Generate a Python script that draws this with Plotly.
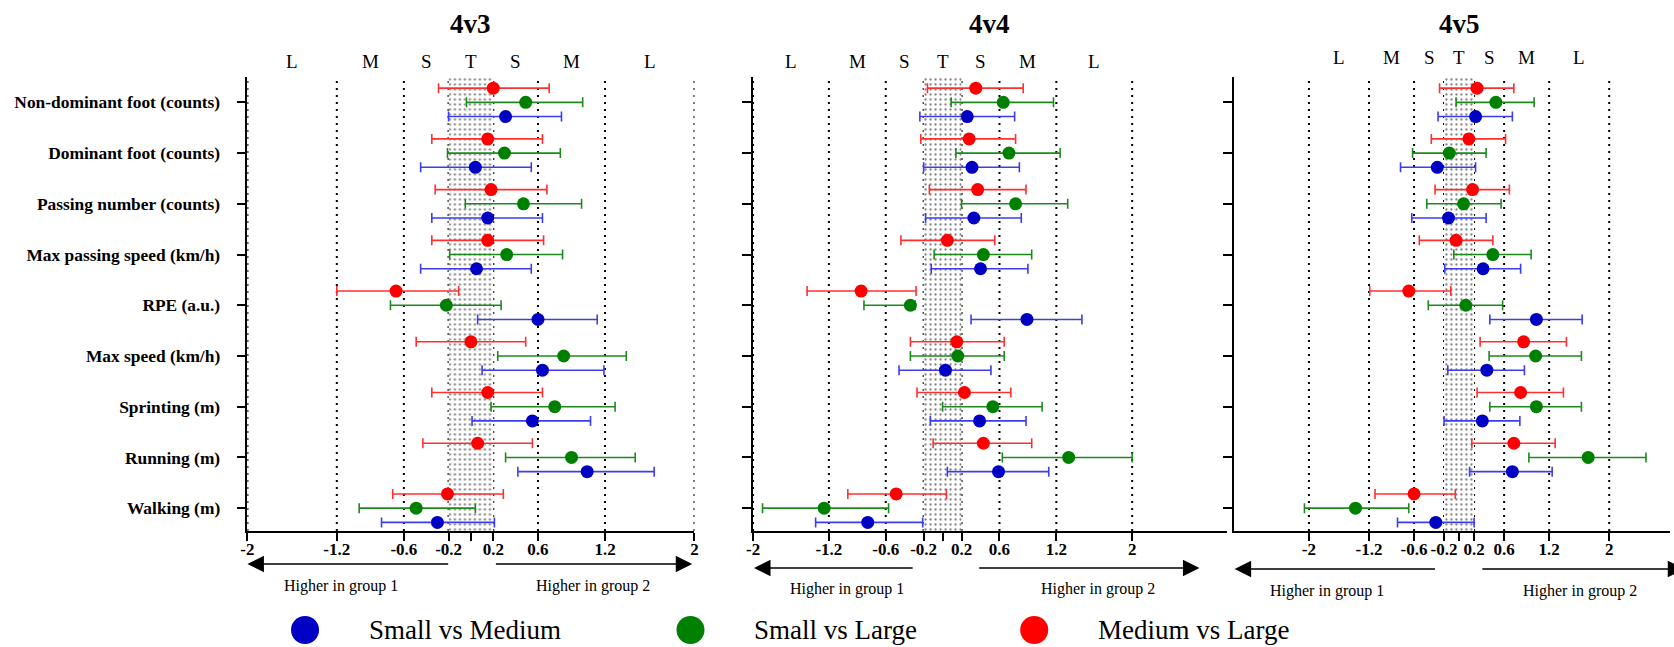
import plotly.graph_objects as go

# ---------------------------------------------------------------- data
CATEGORIES = [
    "Non-dominant foot (counts)",
    "Dominant foot (counts)",
    "Passing number (counts)",
    "Max passing speed (km/h)",
    "RPE (a.u.)",
    "Max speed (km/h)",
    "Sprinting (m)",
    "Running (m)",
    "Walking (m)",
]
FORMATS = ["4v3", "4v4", "4v5"]
COMPARISONS = ["Small vs Medium", "Small vs Large", "Medium vs Large"]

# 4v3 — standardised effect size with lower / upper confidence limits
ES_4V3_SM = [0.31, 0.04, 0.15, 0.05, 0.60, 0.64, 0.55, 1.04, -0.30]
LO_4V3_SM = [-0.20, -0.45, -0.35, -0.45, 0.06, 0.10, 0.01, 0.42, -0.80]
HI_4V3_SM = [0.81, 0.54, 0.64, 0.54, 1.13, 1.19, 1.07, 1.64, 0.21]
ES_4V3_SL = [0.49, 0.30, 0.47, 0.32, -0.22, 0.83, 0.75, 0.90, -0.49]
LO_4V3_SL = [-0.04, -0.21, -0.05, -0.19, -0.72, 0.24, 0.18, 0.31, -1.00]
HI_4V3_SL = [1.00, 0.80, 0.99, 0.82, 0.27, 1.39, 1.29, 1.47, 0.04]
ES_4V3_ML = [0.20, 0.15, 0.18, 0.15, -0.67, 0.00, 0.15, 0.06, -0.21]
LO_4V3_ML = [-0.29, -0.35, -0.32, -0.35, -1.20, -0.49, -0.35, -0.43, -0.70]
HI_4V3_ML = [0.70, 0.64, 0.68, 0.65, -0.11, 0.49, 0.64, 0.55, 0.29]

# 4v4
ES_4V4_SM = [0.26, 0.31, 0.33, 0.40, 0.89, 0.03, 0.39, 0.59, -0.79]
LO_4V4_SM = [-0.24, -0.20, -0.18, -0.12, 0.30, -0.46, -0.13, 0.05, -1.34]
HI_4V4_SM = [0.76, 0.81, 0.83, 0.90, 1.47, 0.51, 0.88, 1.12, -0.21]
ES_4V4_SL = [0.64, 0.70, 0.77, 0.43, -0.34, 0.16, 0.53, 1.33, -1.25]
LO_4V4_SL = [0.09, 0.14, 0.20, -0.09, -0.83, -0.34, 0.00, 0.63, -1.90]
HI_4V4_SL = [1.17, 1.24, 1.32, 0.94, -0.29, 0.65, 1.05, 2.00, -0.57]
ES_4V4_ML = [0.35, 0.28, 0.37, 0.05, -0.86, 0.15, 0.23, 0.43, -0.49]
LO_4V4_ML = [-0.16, -0.23, -0.14, -0.44, -1.43, -0.34, -0.27, -0.10, -1.00]
HI_4V4_ML = [0.85, 0.77, 0.88, 0.55, -0.28, 0.65, 0.72, 0.94, 0.04]

# 4v5
ES_4V5_SM = [0.22, -0.29, -0.14, 0.32, 1.03, 0.37, 0.31, 0.71, -0.31]
LO_4V5_SM = [-0.28, -0.78, -0.63, -0.19, 0.41, -0.15, -0.20, 0.14, -0.82]
HI_4V5_SM = [0.71, 0.22, 0.36, 0.82, 1.64, 0.87, 0.81, 1.24, 0.20]
ES_4V5_SL = [0.49, -0.13, 0.06, 0.45, 0.09, 1.02, 1.03, 1.72, -1.38]
LO_4V5_SL = [-0.04, -0.62, -0.43, -0.07, -0.41, 0.40, 0.41, 0.93, -2.06]
HI_4V5_SL = [1.00, 0.36, 0.56, 0.96, 0.58, 1.63, 1.63, 2.49, -0.67]
ES_4V5_ML = [0.24, 0.13, 0.18, -0.04, -0.67, 0.86, 0.82, 0.73, -0.60]
LO_4V5_ML = [-0.26, -0.37, -0.32, -0.53, -1.19, 0.28, 0.24, 0.17, -1.12]
HI_4V5_ML = [0.73, 0.62, 0.67, 0.45, -0.11, 1.43, 1.39, 1.28, -0.05]

# Magnitude thresholds and their labels
X_TICKS = [-2, -1.2, -0.6, -0.2, 0, 0.2, 0.6, 1.2, 2]
X_TICK_TEXT = ["-2", "-1.2", "-0.6", "-0.2", "", "0.2", "0.6", "1.2", "2"]
MAGNITUDE_LABELS = ["L", "M", "S", "T", "S", "M", "L"]
MAGNITUDE_POS = [-1.6, -0.9, -0.4, 0.0, 0.4, 0.9, 1.6]
TRIVIAL = 0.2

SERIES = {
    "4v3": [(ES_4V3_SM, LO_4V3_SM, HI_4V3_SM), (ES_4V3_SL, LO_4V3_SL, HI_4V3_SL),
            (ES_4V3_ML, LO_4V3_ML, HI_4V3_ML)],
    "4v4": [(ES_4V4_SM, LO_4V4_SM, HI_4V4_SM), (ES_4V4_SL, LO_4V4_SL, HI_4V4_SL),
            (ES_4V4_ML, LO_4V4_ML, HI_4V4_ML)],
    "4v5": [(ES_4V5_SM, LO_4V5_SM, HI_4V5_SM), (ES_4V5_SL, LO_4V5_SL, HI_4V5_SL),
            (ES_4V5_ML, LO_4V5_ML, HI_4V5_ML)],
}

# ---------------------------------------------------------------- styling
W, H = 1674, 647
SERIF = "Liberation Serif"
MARKER_COLORS = ["#0000c4", "#008000", "#ff0000"]
BAR_COLORS = ["#3c3cf0", "#1e8a1e", "#ff3030"]
ROW_OFFSET = [-0.28, 0.0, 0.28]          # blue below, red above the tick

PANELS = [  # pixel domain, x range, title x, arrows (tip, tail), text x
    dict(dom=(242, 692), rng=(-2, 2), title_x=0.0,
         left=(-2.0, -0.19), right=(0.21, 1.98), txt=(-1.16, 1.09),
         arrow_y=564, text_y=586, mag_y=62),
    dict(dom=(751, 1228), rng=(-2, 3), title_x=0.5,
         left=(-1.99, -0.3), right=(0.37, 2.71), txt=(-1.01, 1.64),
         arrow_y=568, text_y=589, mag_y=62),
    dict(dom=(1235, 1674), rng=(-3, 2.81), title_x=0.0,
         left=(-2.99, -0.3), right=(0.29, 3.0), txt=(-1.76, 1.61),
         arrow_y=569, text_y=591, mag_y=58),
]
Y_TOP, Y_BOT = 77, 531
Y_RANGE = (-0.45, 8.5)


def px_x(v):
    return v / W


def px_y(v):
    return 1 - v / H


n = len(CATEGORIES)
ypos = [n - 1 - i for i in range(n)]

fig = go.Figure()
annotations = []
shapes = []

for p, (fmt, panel) in enumerate(zip(FORMATS, PANELS)):
    sfx = "" if p == 0 else str(p + 1)
    xa, ya = "x" + sfx, "y" + sfx

    # trivial band with stipple
    fig.add_trace(go.Scatter(
        x=[-TRIVIAL, TRIVIAL, TRIVIAL, -TRIVIAL, -TRIVIAL],
        y=[Y_RANGE[0], Y_RANGE[0], Y_RANGE[1], Y_RANGE[1], Y_RANGE[0]],
        fill="toself", mode="lines", line=dict(width=0),
        fillcolor="rgba(0,0,0,0)",
        fillpattern=dict(shape=".", fgcolor="black", bgcolor="white",
                         size=5, solidity=0.16),
        xaxis=xa, yaxis=ya, showlegend=False, hoverinfo="skip"))

    # dotted threshold lines
    for xv in X_TICKS:
        shapes.append(dict(type="line", xref=xa, yref=ya + " domain",
                           x0=xv, x1=xv, y0=0, y1=1, layer="below",
                           line=dict(color="black", width=2, dash="2px,5px")))

    for s, (est, lo, hi) in enumerate(SERIES[fmt]):
        fig.add_trace(go.Scatter(
            x=est, y=[y + ROW_OFFSET[s] for y in ypos], mode="markers",
            marker=dict(size=13, color=MARKER_COLORS[s]),
            error_x=dict(type="data", symmetric=False,
                         array=[h - e for h, e in zip(hi, est)],
                         arrayminus=[e - l for e, l in zip(est, lo)],
                         color=BAR_COLORS[s], thickness=1.6, width=5),
            xaxis=xa, yaxis=ya, showlegend=False, name=COMPARISONS[s]))

    dom = [px_x(panel["dom"][0]), px_x(panel["dom"][1])]
    fig.update_layout(**{
        ("xaxis" + sfx): dict(
            domain=dom, range=list(panel["rng"]), anchor=ya,
            showline=True, linecolor="black", linewidth=1.5,
            ticks="outside", ticklen=8, tickwidth=1.5, tickcolor="black",
            tickvals=X_TICKS, ticktext=X_TICK_TEXT, ticklabelstandoff=-6,
            tickfont=dict(family=SERIF, size=17, color="black", weight="bold"),
            showgrid=False, zeroline=False, fixedrange=True),
        ("yaxis" + sfx): dict(
            domain=[px_y(Y_BOT), px_y(Y_TOP)], range=list(Y_RANGE), anchor=xa,
            showline=True, linecolor="black", linewidth=1.5,
            ticks="outside", ticklen=9, tickwidth=1.5, tickcolor="black",
            tickvals=ypos, ticktext=CATEGORIES, showticklabels=(p == 0),
            ticklabelstandoff=13,
            tickfont=dict(family=SERIF, size=17.4, color="black", weight="bold"),
            showgrid=False, zeroline=False, fixedrange=True),
    })

    # panel title
    annotations.append(dict(text="<b>%s</b>" % fmt, x=panel["title_x"], xref=xa,
                            y=px_y(24), yref="paper", yanchor="middle",
                            showarrow=False,
                            font=dict(family=SERIF, size=27, color="black")))
    # magnitude letters
    for lab, xv in zip(MAGNITUDE_LABELS, MAGNITUDE_POS):
        annotations.append(dict(text=lab, x=xv, xref=xa, y=px_y(panel["mag_y"]),
                                yref="paper", yanchor="middle", showarrow=False,
                                font=dict(family=SERIF, size=19, color="black")))
    # direction arrows
    for tip, tail in (panel["left"], tuple(reversed(panel["right"]))):
        annotations.append(dict(text="", x=tip, xref=xa, y=px_y(panel["arrow_y"]),
                                yref="paper", ax=tail, axref=xa, ay=0, ayref="pixel",
                                showarrow=True, arrowhead=2, arrowsize=2.2,
                                arrowwidth=1.5, arrowcolor="black", standoff=0))
    for lab, xv in zip(["Higher in group 1", "Higher in group 2"], panel["txt"]):
        annotations.append(dict(text=lab, x=xv, xref=xa, y=px_y(panel["text_y"]),
                                yref="paper", yanchor="middle", showarrow=False,
                                font=dict(family=SERIF, size=16, color="black")))

# legend along the bottom edge, drawn on a full-page axis in page pixels
LEGEND_X = [300, 688, 1034]
LEGEND_Y = 630
fig.add_trace(go.Scatter(
    x=LEGEND_X, y=[LEGEND_Y] * 3, mode="markers",
    marker=dict(size=28, color=MARKER_COLORS),
    xaxis="x4", yaxis="y4", showlegend=False, hoverinfo="skip",
    cliponaxis=False))
for lab, xv in zip(COMPARISONS, LEGEND_X):
    annotations.append(dict(text=lab, x=xv + 62, xref="x4", y=LEGEND_Y, yref="y4",
                            xanchor="left", yanchor="middle", showarrow=False,
                            font=dict(family=SERIF, size=27, color="black")))

fig.update_layout(
    xaxis4=dict(domain=[0, 1], range=[0, W], visible=False, anchor="y4",
                fixedrange=True),
    yaxis4=dict(domain=[0, 1], range=[H, 0], visible=False, anchor="x4",
                fixedrange=True),
    width=W, height=H, margin=dict(l=0, r=0, t=0, b=0),
    paper_bgcolor="white", plot_bgcolor="rgba(0,0,0,0)",
    annotations=annotations, shapes=shapes, showlegend=False,
)

fig.write_html("out.html", include_plotlyjs=True, config={"displayModeBar": False})
